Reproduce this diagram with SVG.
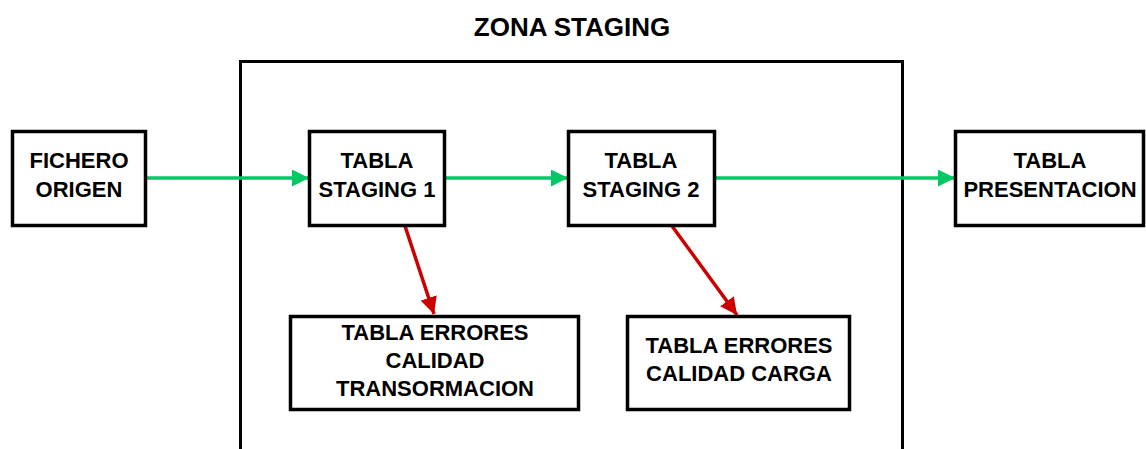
<svg xmlns="http://www.w3.org/2000/svg" width="1146" height="449" viewBox="0 0 1146 449">
  <style>
    .box { fill: #ffffff; stroke: #000000; stroke-width: 3.5; }
    .zone { fill: none; stroke: #000000; stroke-width: 3; }
    .lbl { font-family: "Liberation Sans", Arial, sans-serif; font-weight: bold; font-size: 22px; fill: #000000; text-anchor: middle; }
    .title { font-size: 26px; }
    .flow { stroke: #00c864; stroke-width: 3.5; fill: none; }
    .err { stroke: #cc0000; stroke-width: 3.5; fill: none; }
  </style>
  <defs>
    <marker id="arrowGreen" viewBox="0 0 10 10" refX="10" refY="5" markerWidth="17" markerHeight="17" markerUnits="userSpaceOnUse" orient="auto">
      <path d="M0,0 L10,5 L0,10 z" fill="#00c864"/>
    </marker>
    <marker id="arrowRed" viewBox="0 0 10 10" refX="10" refY="5" markerWidth="17" markerHeight="17" markerUnits="userSpaceOnUse" orient="auto">
      <path d="M0,0 L10,5 L0,10 z" fill="#cc0000"/>
    </marker>
  </defs>

  <g id="zona-staging">
    <rect class="zone" x="240.5" y="61.5" width="662" height="400"/>
    <text class="lbl title" x="572" y="36">ZONA STAGING</text>
  </g>

  <g id="connectors">
    <line class="flow" x1="146" y1="178" x2="309" y2="178" marker-end="url(#arrowGreen)"/>
    <line class="flow" x1="445" y1="178" x2="568" y2="178" marker-end="url(#arrowGreen)"/>
    <line class="flow" x1="715" y1="178" x2="955" y2="178" marker-end="url(#arrowGreen)"/>
    <line class="err" x1="405" y1="226" x2="434" y2="314" marker-end="url(#arrowRed)"/>
    <line class="err" x1="672" y1="226" x2="737" y2="315" marker-end="url(#arrowRed)"/>
  </g>

  <g id="fichero-origen">
    <rect class="box" x="12.5" y="131.5" width="133" height="94"/>
    <text class="lbl" x="79" y="168">FICHERO</text>
    <text class="lbl" x="79" y="197">ORIGEN</text>
  </g>

  <g id="tabla-staging-1">
    <rect class="box" x="309.5" y="131.5" width="135" height="94"/>
    <text class="lbl" x="377" y="168">TABLA</text>
    <text class="lbl" x="377" y="197">STAGING 1</text>
  </g>

  <g id="tabla-staging-2">
    <rect class="box" x="568.5" y="131.5" width="146" height="94"/>
    <text class="lbl" x="641" y="168">TABLA</text>
    <text class="lbl" x="641" y="197">STAGING 2</text>
  </g>

  <g id="tabla-presentacion">
    <rect class="box" x="955.5" y="131.5" width="188" height="94"/>
    <text class="lbl" x="1050" y="168">TABLA</text>
    <text class="lbl" x="1050" y="197">PRESENTACION</text>
  </g>

  <g id="errores-transformacion">
    <rect class="box" x="290.5" y="316.5" width="288" height="93"/>
    <text class="lbl" x="435" y="340">TABLA ERRORES</text>
    <text class="lbl" x="435" y="368">CALIDAD</text>
    <text class="lbl" x="435" y="396">TRANSORMACION</text>
  </g>

  <g id="errores-carga">
    <rect class="box" x="627.5" y="316.5" width="222" height="93"/>
    <text class="lbl" x="739" y="353">TABLA ERRORES</text>
    <text class="lbl" x="739" y="381">CALIDAD CARGA</text>
  </g>
</svg>
